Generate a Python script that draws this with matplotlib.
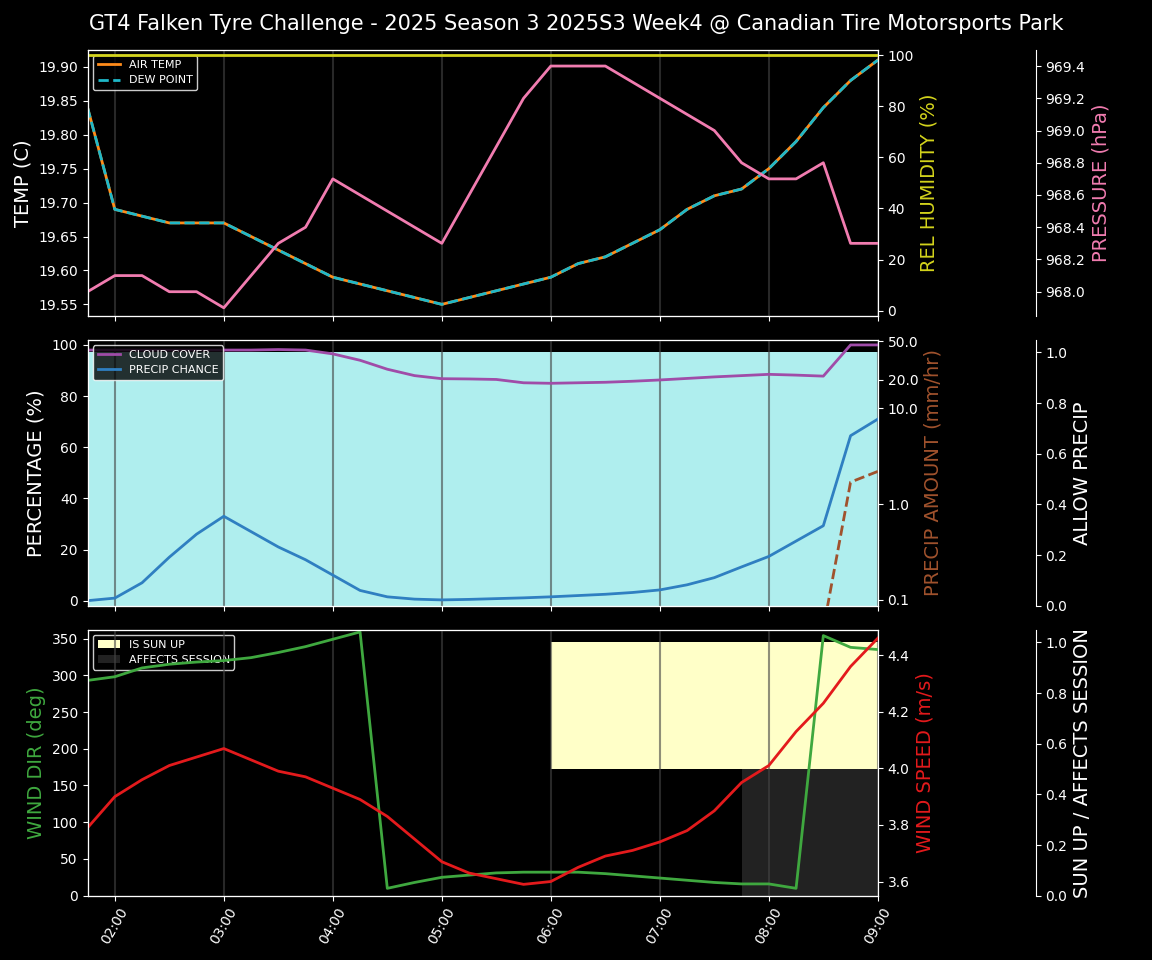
import numpy as np
import pandas as pd
import matplotlib
matplotlib.use("Agg")
import matplotlib.pyplot as plt
import matplotlib.dates as mdates

plt.style.use("dark_background")

times = pd.date_range("2025-01-01 01:45", "2025-01-01 09:00", freq="15min")

air_temp = [19.84, 19.69, 19.68, 19.67, 19.67, 19.67, 19.65, 19.63, 19.61, 19.59,
            19.58, 19.57, 19.56, 19.55, 19.56, 19.57, 19.58, 19.59, 19.61, 19.62,
            19.64, 19.66, 19.69, 19.71, 19.72, 19.75, 19.79, 19.84, 19.88, 19.91]
dew_point = air_temp
humidity = [100] * 30
pressure = [968.0, 968.1, 968.1, 968.0, 968.0, 967.9, 968.1, 968.3, 968.4, 968.7,
            968.6, 968.5, 968.4, 968.3, 968.6, 968.9, 969.2, 969.4, 969.4, 969.4,
            969.3, 969.2, 969.1, 969.0, 968.8, 968.7, 968.7, 968.8, 968.3, 968.3]

cloud_cover = [98, 98, 98, 98, 98, 98, 98, 98.2, 98, 96.5,
               94, 90.5, 88, 86.8, 86.7, 86.5, 85.2, 85, 85.2, 85.4,
               85.8, 86.3, 86.9, 87.5, 88, 88.5, 88.2, 87.8, 100, 100]
precip_chance = [0, 1, 7, 17, 26, 33, 27, 21, 16, 10,
                 4, 1.5, 0.6, 0.3, 0.5, 0.8, 1.1, 1.5, 2, 2.5,
                 3.2, 4.2, 6.2, 9, 13.2, 17.3, 23.3, 29.3, 64.5, 71]
precip_amount = [0.0] * 27 + [0.05, 1.7, 2.2]
allow_precip = [1] * 30

wind_dir = [293, 298, 310, 315, 318, 320, 324, 331, 339, 349,
            359, 10, 18, 25, 28, 31, 32, 32, 32, 30,
            27, 24, 21, 18, 16, 16, 10, 354, 338, 335]
wind_speed = [3.79, 3.90, 3.96, 4.01, 4.04, 4.07, 4.03, 3.99, 3.97, 3.93,
              3.89, 3.83, 3.75, 3.67, 3.63, 3.61, 3.59, 3.60, 3.65, 3.69,
              3.71, 3.74, 3.78, 3.85, 3.95, 4.01, 4.13, 4.23, 4.36, 4.46]
sun_up = [0] * 17 + [1] * 13
affects_session = [0] * 24 + [1] * 6

fig, axes = plt.subplots(3, 1, figsize=(11.52, 9.6), sharex=True)
fig.subplots_adjust(left=0.076, right=0.762, top=0.948, bottom=0.067, hspace=0.09)
fig.suptitle("GT4 Falken Tyre Challenge - 2025 Season 3 2025S3 Week4 @ Canadian Tire Motorsports Park",
             fontsize=15, y=0.985)

for ax in axes:
    ax.set_facecolor("black")
    ax.grid(axis="x", color="#444444", alpha=0.6, lw=1.5)
    ax.set_xlim(times[0], times[-1])

# top panel
ax = axes[0]
ax.plot(times, air_temp, color="#ff8c1a", lw=2, label="AIR TEMP")
ax.plot(times, dew_point, color="#1fb8c8", lw=2, ls="--", label="DEW POINT")
ax.set_ylim(19.533, 19.925)
ax.set_ylabel("TEMP (C)", fontsize=14)
ax.legend(loc="upper left", fontsize=8, facecolor="black", edgecolor="white")
axh = ax.twinx()
axh.plot(times, humidity, color="#d4d41c", lw=2)
axh.set_ylim(-2, 102)
axh.set_ylabel("REL HUMIDITY (%)", color="#d4d41c", fontsize=14)
axp = ax.twinx()
axp.spines["right"].set_position(("axes", 1.2))
axp.plot(times, pressure, color="#f17cb0", lw=2)
axp.set_ylim(967.85, 969.5)
axp.set_ylabel("PRESSURE (hPa)", color="#f17cb0", fontsize=14)

# middle panel
ax = axes[1]
axa = ax.twinx()
axa.spines["right"].set_position(("axes", 1.2))
axa.fill_between(times, 0, allow_precip, color="#afeeee", step="post", lw=0)
axa.set_ylim(0, 1.05)
axa.set_ylabel("ALLOW PRECIP", fontsize=14)
ax.set_zorder(axa.get_zorder() + 1)
ax.patch.set_visible(False)
ax.plot(times, cloud_cover, color="#a04ca8", lw=2, label="CLOUD COVER")
ax.plot(times, precip_chance, color="#2f7fc1", lw=2, label="PRECIP CHANCE")
ax.set_ylim(-2, 102)
ax.set_ylabel("PERCENTAGE (%)", fontsize=14)
ax.legend(loc="upper left", fontsize=8, facecolor="black", edgecolor="white")
axr = ax.twinx()
axr.plot(times, precip_amount, color="#a0522d", lw=2, ls="--")
axr.set_yscale("log")
axr.set_ylim(0.087, 52)
axr.set_yticks([0.1, 1.0, 10.0, 20.0, 50.0])
axr.set_yticklabels(["0.1", "1.0", "10.0", "20.0", "50.0"])
axr.minorticks_off()
axr.set_ylabel("PRECIP AMOUNT (mm/hr)", color="#a0522d", fontsize=14)

# bottom panel
ax = axes[2]
axs = ax.twinx()
axs.spines["right"].set_position(("axes", 1.2))
su = np.array(sun_up) * 0.5
af = np.array(affects_session) * 0.5
axs.fill_between(times, 0.5, 0.5 + su, where=np.array(sun_up) > 0, color="#ffffc8",
                 step="post", lw=0, label="IS SUN UP")
axs.fill_between(times, 0, af, where=np.array(affects_session) > 0, color="#222222",
                 step="post", lw=0, label="AFFECTS SESSION")
axs.set_ylim(0, 1.05)
axs.set_ylabel("SUN UP / AFFECTS SESSION", fontsize=14)
axs.legend(loc="upper left", fontsize=8, facecolor="black", edgecolor="white")
ax.set_zorder(axs.get_zorder() + 1)
ax.patch.set_visible(False)
ax.plot(times, wind_dir, color="#3fa83f", lw=2)
ax.set_ylim(0, 362)
ax.set_ylabel("WIND DIR (deg)", color="#3fa83f", fontsize=14)
axw = ax.twinx()
axw.plot(times, wind_speed, color="#e31a1c", lw=2)
axw.set_ylim(3.55, 4.49)
axw.set_ylabel("WIND SPEED (m/s)", color="#e31a1c", fontsize=14)
axw.set_zorder(ax.get_zorder() + 1)

ax.xaxis.set_major_locator(mdates.HourLocator())
ax.xaxis.set_major_formatter(mdates.DateFormatter("%H:%M"))
plt.setp(ax.get_xticklabels(), rotation=60)

fig.savefig("out.png", dpi=100, facecolor="black")
